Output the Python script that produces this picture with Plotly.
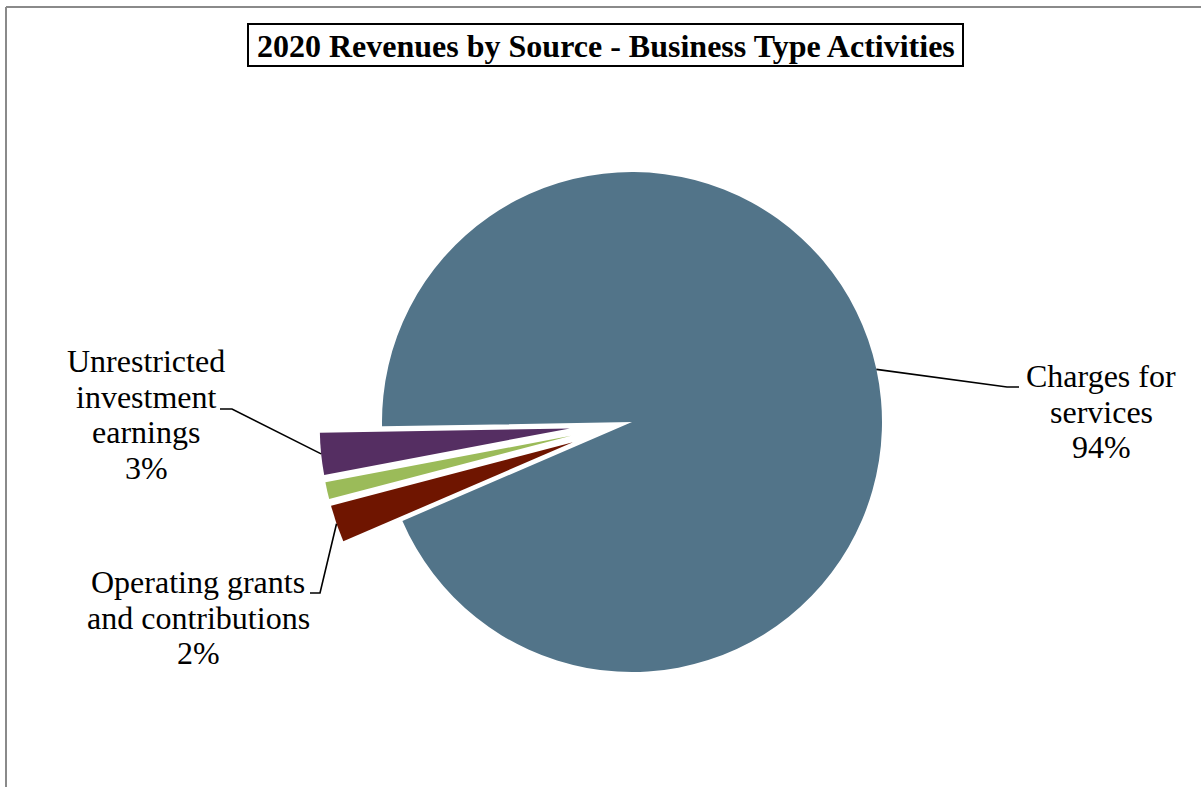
import math
import plotly.graph_objects as go

# Revenue sources, in data order (drawn clockwise)
sources = [
    "Charges for services",
    "Operating grants and contributions",
    "Capital grants and contributions",
    "Unrestricted investment earnings",
]
shares = [93.8, 2.4, 1.1, 2.7]
slice_colors = ["#527489", "#6F1500", "#9BBB59", "#552E62"]
slice_pull = [0.0, 0.25, 0.25, 0.25]

# label lines per source (None = not labelled)
label_lines = {
    "Charges for services": ["Charges for", "services"],
    "Operating grants and contributions": ["Operating grants", "and contributions"],
    "Unrestricted investment earnings": ["Unrestricted", "investment", "earnings"],
}

W, H = 1201, 787
FONT = "Liberation Serif, Times New Roman, serif"
LABEL_SIZE = 32
TITLE_SIZE = 32
LINE_STEP = 35.5
START_ANGLE = 269  # degrees clockwise from 12 o'clock

# pie placement in pixels
CX, CY, R = 632, 422, 250
max_pull = max(slice_pull)
half = R * (1 + max_pull)


def px(x):
    return x / W


def py(y):
    return 1 - y / H


fig = go.Figure()
fig.add_trace(go.Pie(
    labels=sources,
    values=shares,
    sort=False,
    direction="clockwise",
    rotation=START_ANGLE,
    pull=slice_pull,
    marker=dict(colors=slice_colors, line=dict(width=0)),
    textinfo="none",
    hoverinfo="label+percent",
    showlegend=False,
    domain=dict(x=[px(CX - half - 60), px(CX + half + 60)],
                y=[py(CY + half), py(CY - half)]),
))

# mid-angle of each slice and the point on its rim
total = sum(shares)
rim = {}
acc = 0.0
for name, v, p in zip(sources, shares, slice_pull):
    mid = math.radians(START_ANGLE + 360 * (acc + v / 2) / total)
    ux, uy = math.sin(mid), -math.cos(mid)
    ox, oy = CX + p * R * ux, CY + p * R * uy
    rim[name] = (ox + R * ux, oy + R * uy)
    acc += v

pct = {name: f"{round(100 * v / total)}%" for name, v in zip(sources, shares)}

# label layout: text centre x, first baseline y, leader elbow and end
label_layout = {
    "Charges for services": dict(x=1101, y0=387, elbow=(1007, 387), end=(1019, 387)),
    "Unrestricted investment earnings": dict(x=146, y0=372, elbow=(232, 409), end=(220, 409)),
    "Operating grants and contributions": dict(x=198, y0=593, elbow=(320, 593), end=(310, 593)),
}

annotations = []
shapes = []
for name, lines in label_lines.items():
    lay = label_layout[name]
    texts = lines + [pct[name]]
    for i, t in enumerate(texts):
        base = lay["y0"] + i * LINE_STEP
        annotations.append(dict(
            text=t, x=px(lay["x"]), y=py(base - 0.3375 * LABEL_SIZE),
            xref="paper", yref="paper", xanchor="center", yanchor="middle",
            showarrow=False, font=dict(family=FONT, size=LABEL_SIZE, color="black"),
        ))
    ax, ay = rim[name]
    ex, ey = lay["elbow"]
    tx, ty = lay["end"]
    shapes.append(dict(
        type="path", xref="paper", yref="paper",
        path=f"M {px(ax)} {py(ay)} L {px(ex)} {py(ey)} L {px(tx)} {py(ty)}",
        line=dict(color="black", width=1.6),
    ))

# chart title inside a framed box
annotations.append(dict(
    text="<b>2020 Revenues by Source - Business Type Activities</b>",
    x=px(605.5), y=py(57 - 0.3375 * TITLE_SIZE), xref="paper", yref="paper",
    xanchor="center", yanchor="middle", showarrow=False,
    font=dict(family=FONT, size=TITLE_SIZE, color="black"),
))
shapes.append(dict(type="rect", xref="paper", yref="paper",
                   x0=px(248), x1=px(963), y0=py(66), y1=py(24),
                   line=dict(color="black", width=2), fillcolor="rgba(0,0,0,0)"))

# outer chart frame (top and left edges visible)
shapes.append(dict(type="line", xref="paper", yref="paper",
                   x0=px(6), x1=1.0, y0=py(7), y1=py(7),
                   line=dict(color="#8A8A8A", width=2)))
shapes.append(dict(type="line", xref="paper", yref="paper",
                   x0=px(6), x1=px(6), y0=py(7), y1=0.0,
                   line=dict(color="#8A8A8A", width=2)))

fig.update_layout(
    width=W, height=H,
    margin=dict(l=0, r=0, t=0, b=0),
    paper_bgcolor="white", plot_bgcolor="white",
    annotations=annotations, shapes=shapes,
)

fig.write_html("out.html")
